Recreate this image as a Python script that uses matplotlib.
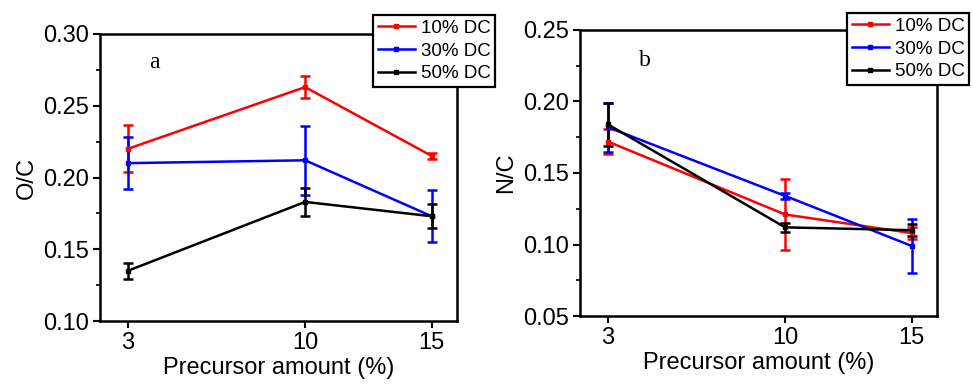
import matplotlib
matplotlib.use("Agg")
import matplotlib.pyplot as plt
from matplotlib.ticker import MultipleLocator, FormatStrFormatter

plt.rcParams['font.family'] = ['Liberation Sans', 'DejaVu Sans']

precursor = [3, 10, 15]
series_names = ['10% DC', '30% DC', '50% DC']
series_colors = ['#ff0000', '#0000ff', '#000000']

# panel a: O/C
oc_10 = [0.220, 0.263, 0.215]
oc_10_err = [0.0165, 0.0075, 0.002]
oc_30 = [0.210, 0.212, 0.173]
oc_30_err = [0.018, 0.024, 0.018]
oc_50 = [0.135, 0.183, 0.173]
oc_50_err = [0.0057, 0.0095, 0.0085]

# panel b: N/C
nc_10 = [0.172, 0.121, 0.108]
nc_10_err = [0.009, 0.0247, 0.004]
nc_30 = [0.182, 0.134, 0.099]
nc_30_err = [0.017, 0.002, 0.019]
nc_50 = [0.184, 0.112, 0.110]
nc_50_err = [0.015, 0.003, 0.004]

fig = plt.figure(figsize=(9.73, 3.85), dpi=100)
ax_a = fig.add_axes([0.1028, 0.1662, 0.3669, 0.7455])
ax_b = fig.add_axes([0.5961, 0.1792, 0.3669, 0.7429])


def draw_panel(ax, ys, errs, ylabel, ylim, letter, letter_pos, legend_box):
    handles = []
    for y, e, c in zip(ys, errs, series_colors):
        h = ax.errorbar(precursor, y, yerr=e, color=c, lw=1.8, marker='s', ms=3.5,
                        capsize=3.5, capthick=1.8, elinewidth=1.8)
        handles.append(h[0])
    ax.set_xlim(1.9, 16)
    ax.set_ylim(*ylim)
    ax.set_xticks(precursor)
    ax.yaxis.set_major_locator(MultipleLocator(0.05))
    ax.yaxis.set_minor_locator(MultipleLocator(0.025))
    ax.yaxis.set_major_formatter(FormatStrFormatter('%.2f'))
    ax.tick_params(axis='both', which='major', direction='out', length=5, width=1.5,
                   labelsize=17, pad=3)
    ax.tick_params(axis='y', which='minor', direction='out', length=3, width=1.2)
    for s in ax.spines.values():
        s.set_linewidth(1.8)
    ax.set_xlabel('Precursor amount (%)', fontsize=17, labelpad=2)
    ax.set_ylabel(ylabel, fontsize=17, labelpad=4)
    ax.text(letter_pos[0], letter_pos[1], letter, transform=ax.transAxes,
            fontsize=17, family='Liberation Serif', ha='center', va='center')
    leg = fig.legend(handles, series_names, loc='upper left', bbox_to_anchor=legend_box,
                     fontsize=13.5, frameon=True, fancybox=False, handlelength=2.0,
                     handletextpad=0.3, borderpad=0.25, labelspacing=0.3,
                     borderaxespad=0, framealpha=1)
    leg.get_frame().set_edgecolor('black')
    leg.get_frame().set_linewidth(1.6)
    leg.set_zorder(5)


draw_panel(ax_a, [oc_10, oc_30, oc_50], [oc_10_err, oc_30_err, oc_50_err],
           'O/C', (0.10, 0.30), 'a', (0.151, 0.902), (373 / 973, 1 - 15 / 385))
draw_panel(ax_b, [nc_10, nc_30, nc_50], [nc_10_err, nc_30_err, nc_50_err],
           'N/C', (0.05, 0.25), 'b', (0.182, 0.892), (847 / 973, 1 - 13 / 385))

fig.savefig('out.png', dpi=100)
